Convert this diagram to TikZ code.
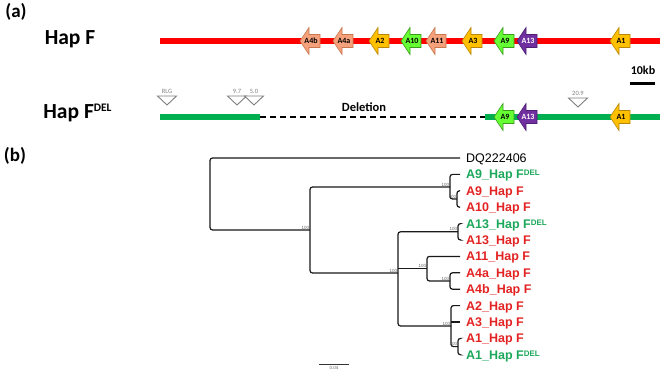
\documentclass[tikz,border=0pt]{standalone}
\usepackage{fontspec}
\setmainfont{Carlito}
\newfontfamily\arialfont{Liberation Sans}
\usetikzlibrary{positioning}

\definecolor{hapred}{HTML}{FF0000}
\definecolor{hapgreen}{HTML}{00B050}
\definecolor{genesalmon}{HTML}{F5A27C}
\definecolor{genesalmonline}{HTML}{C8774F}
\definecolor{genegold}{HTML}{FFC000}
\definecolor{genegoldline}{HTML}{B8860B}
\definecolor{genelime}{HTML}{66FF33}
\definecolor{genelimeline}{HTML}{3C9C1E}
\definecolor{genepurple}{HTML}{7030A0}
\definecolor{genepurpleline}{HTML}{4E1F75}
\definecolor{leafred}{HTML}{E32222}
\definecolor{leafgreen}{HTML}{1BA85A}
\definecolor{markgray}{HTML}{7F7F7F}

\tikzset{
  panel/.style={font=\fontsize{19}{19}\selectfont\bfseries, inner sep=0pt},
  haplabel/.style={font=\fontsize{21.5}{21.5}\selectfont\bfseries, inner sep=0pt},
  genetext/.style={font=\fontsize{8}{8}\selectfont\bfseries, inner sep=0pt},
  genebody/.style={line width=0.6pt, line join=miter},
  marker/.style={draw=markgray, fill=white, line width=0.9pt, line join=miter},
  markertext/.style={font=\fontsize{6.5}{6.5}\selectfont, text=markgray, inner sep=0pt},
  branch/.style={line width=1.2pt, draw=black!90, rounded corners=2.5pt},
  leaf/.style={anchor=base west, inner sep=0pt, font=\arialfont\fontsize{12.5}{12.5}\selectfont},
  leafbold/.style={leaf, font=\arialfont\fontsize{12.5}{12.5}\selectfont\bfseries},
  boot/.style={anchor=south east, inner sep=0.6pt, font=\arialfont\fontsize{4.5}{4.5}\selectfont, text=black!60},
}

% gene arrow pointing left: tip x, y, colour kind, text colour, node name, label
\newcommand{\genearrow}[6]{%
  \draw[genebody, fill=gene#3, draw=gene#3line] (#1,#2) -- ++(9,-13.5) -- ++(0,7) -- ++(11,0)
    -- ++(0,13) -- ++(-11,0) -- ++(0,7) -- cycle;
  \node[genetext, text=#4] (#5) at (#1+11,#2) {#6};
}
\newcommand{\supdel}[2]{\raisebox{#2}{\fontsize{#1}{#1}\selectfont DEL}}

\begin{document}
\begin{tikzpicture}[x=1pt, y=-1pt]
\useasboundingbox (0,0) rectangle (661,374);

% (a) haplotype maps
\node[panel] (panel-a) at (16,12) {(a)};
\node[haplabel, anchor=base] (hapF-name) at (70,45) {Hap F};
\node[haplabel, anchor=base] (hapFdel-name) at (77.5,119) {Hap F\supdel{11.5}{7.5pt}};

\coordinate (hapF-left) at (160,41);
\coordinate (hapF-right) at (660,41);
\draw[hapred, line width=6.5pt] (hapF-left) -- (hapF-right);

\foreach \tip/\kind/\ink/\name [count=\i] in {300/salmon/black/A4b, 333/salmon/black/A4a,
    369/gold/black/A2, 401/lime/black/A10, 426/salmon/black/A11, 462/gold/black/A3,
    494/lime/black/A9, 517/purple/white/A13, 610/gold/black/A1}
  \genearrow{\tip}{41}{\kind}{\ink}{hapF-\i}{\name};

% scale bar
\node[font=\fontsize{12}{12}\selectfont\bfseries, inner sep=0pt] (kb-label) at (643,70) {10kb};
\coordinate (kb-left) at (630,84);
\coordinate (kb-right) at (655,84);
\draw[line width=3pt] (kb-left) -- (kb-right);

\coordinate (del-a) at (160,117);
\coordinate (del-b) at (260,117);
\coordinate (del-c) at (485,117);
\coordinate (del-d) at (660,117);
\draw[hapgreen, line width=6pt] (del-a) -- (del-b);
\draw[line width=1.5pt, dash pattern=on 6pt off 4pt] (del-b) -- (del-c);
\draw[hapgreen, line width=6pt] (del-c) -- (del-d);
\node[font=\fontsize{12.5}{12.5}\selectfont\bfseries, inner sep=0pt] (del-label) at (364,107) {Deletion};

\foreach \mx/\my/\mlabel [count=\i] in {167/96/RLG, 237/96/9.7, 254/96/5.0, 578/98/20.9} {
  \draw[marker] (\mx-9.5,\my) -- (\mx+9.5,\my) -- (\mx,\my+9) -- cycle;
  \node[markertext, anchor=south] (mark-\i) at (\mx,\my-2) {\mlabel};
}

\foreach \tip/\kind/\ink/\name [count=\i] in {494/lime/black/A9, 517/purple/white/A13, 610/gold/black/A1}
  \genearrow{\tip}{117}{\kind}{\ink}{hapFdel-\i}{\name};

% (b) tree
\node[panel] (panel-b) at (15,156) {(b)};

\coordinate (leaf0) at (460,158);
\node[leaf] (label0) at (466,162.5) {DQ222406};
\foreach \name/\ink [count=\i] in {{A9\_Hap F\supdel{8}{3pt}}/leafgreen, {A9\_Hap F}/leafred,
    {A10\_Hap F}/leafred, {A13\_Hap F\supdel{8}{3pt}}/leafgreen, {A13\_Hap F}/leafred,
    {A11\_Hap F}/leafred, {A4a\_Hap F}/leafred, {A4b\_Hap F}/leafred, {A2\_Hap F}/leafred,
    {A3\_Hap F}/leafred, {A1\_Hap F}/leafred, {A1\_Hap F\supdel{8}{3pt}}/leafgreen} {
  \coordinate (leaf\i) at (460,158+16.4*\i);
  \node[leafbold, text=\ink] (label\i) at (466,162.5+16.4*\i) {\name};
}

\coordinate (root) at (210,194);
\coordinate (n1) at (310,230);
\coordinate (n2) at (450,187);
\coordinate (n2b) at (457,199);
\coordinate (n3) at (398,273);
\coordinate (n4) at (458,231.8);
\coordinate (n5) at (427,268.5);
\coordinate (n5b) at (450,281);
\coordinate (n6) at (451,326);
\coordinate (n6b) at (458,346.6);

\draw[branch] (leaf0) -| (root) |- (n1);
\draw[branch] (n2) -| (n1) |- (n3);
\draw[branch] (leaf1) -| (n2) |- (n2b);
\draw[branch] (leaf2) -| (n2b) |- (leaf3);
\draw[branch] (n4) -| (n3) |- (n6);
\draw[branch] (n3 |- n5) -- (n5);
\draw[branch] (leaf4) -| (n4) |- (leaf5);
\draw[branch] (leaf6) -| (n5) |- (n5b);
\draw[branch] (leaf7) -| (n5b) |- (leaf8);
\draw[branch] (leaf9) -| (n6) |- (n6b);
\draw[branch] (n6 |- leaf10) -- (leaf10);
\draw[branch] (leaf11) -| (n6b) |- (leaf12);

\foreach \n in {n1, n2, n2b, n3, n4, n5, n5b, n6, n6b}
  \node[boot] (boot-\n) at (\n) {100};

% branch length scale
\coordinate (sb-left) at (319,364);
\coordinate (sb-right) at (349,364);
\draw[line width=0.8pt, black!80] (sb-left) -- (sb-right);
\node[boot, anchor=north] (sb-label) at (334,366) {0.04};
\end{tikzpicture}
\end{document}
